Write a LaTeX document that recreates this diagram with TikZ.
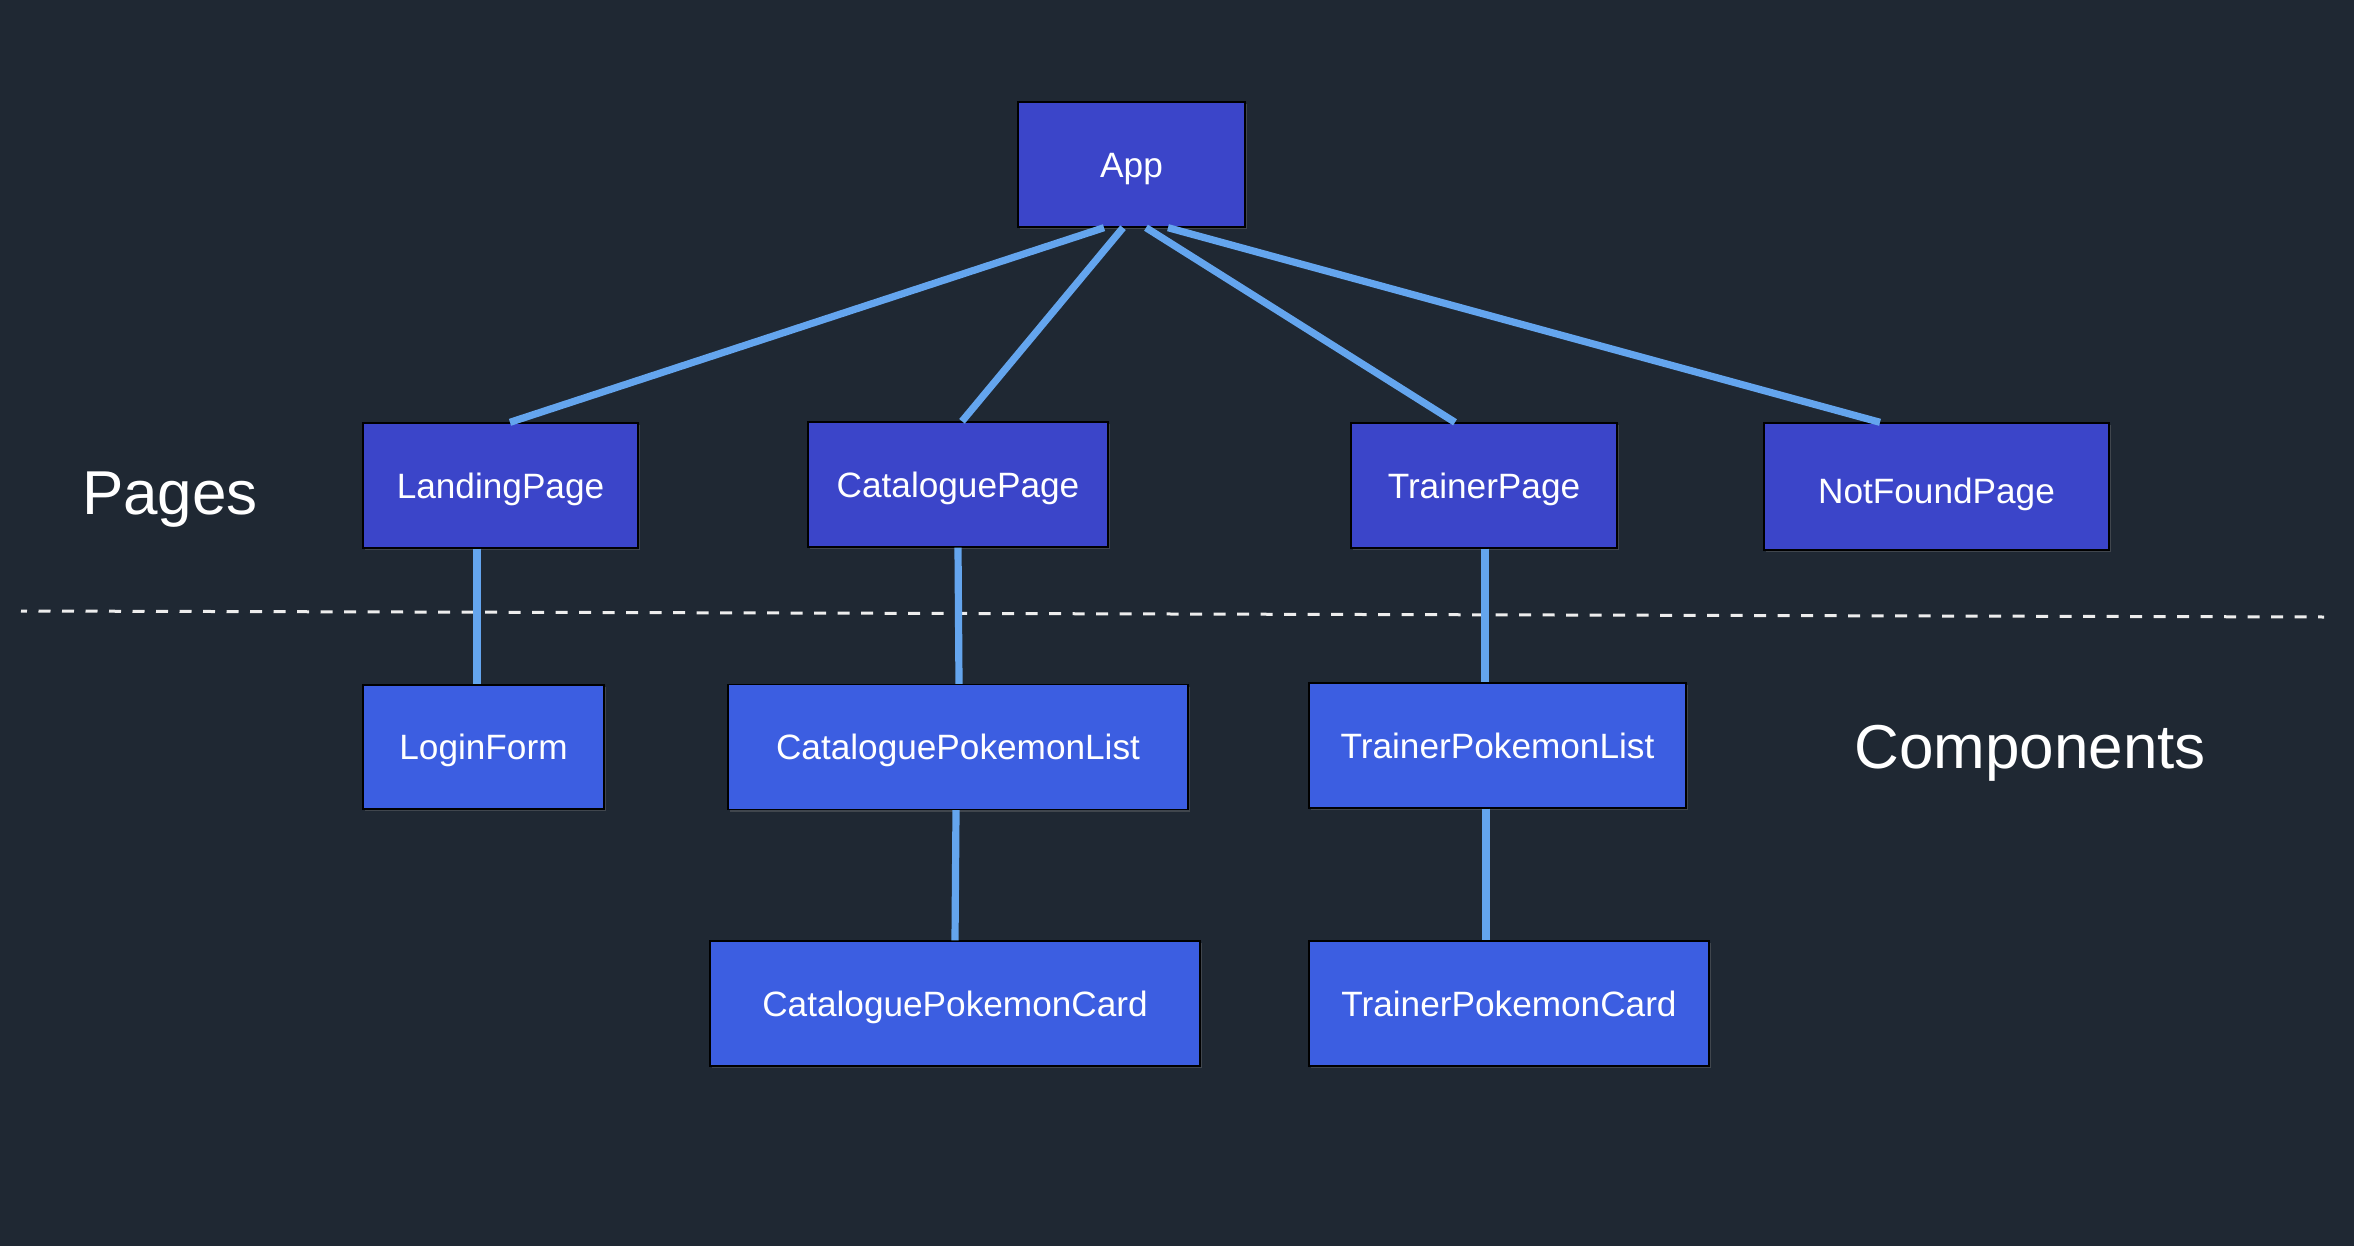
\documentclass[tikz,border=0pt]{standalone}
\usepackage{fontspec}
\setmainfont{Liberation Sans}
\usetikzlibrary{shadows}
\definecolor{bgcol}{HTML}{1F2833}
\definecolor{pagecol}{HTML}{3B45C9}
\definecolor{compcol}{HTML}{3C5EE1}
\definecolor{linkcol}{HTML}{64A5EE}
\definecolor{dashcol}{HTML}{EDEDED}
\begin{document}
\begin{tikzpicture}[x=0.5pt,y=-0.5pt,
  basebox/.style={draw=black, line width=0.7pt, text=white, inner sep=0pt,
    font=\fontsize{17.6pt}{21pt}\selectfont, text height=12.6pt, text depth=0pt,
    drop shadow={opacity=0.35, shadow xshift=0.8pt, shadow yshift=-1.2pt}},
  pagebox/.style={basebox, fill=pagecol},
  compbox/.style={basebox, fill=compcol},
  link/.style={draw=linkcol, line width=3.6pt},
  sectionlabel/.style={text=white, font=\fontsize{31pt}{36pt}\selectfont, inner sep=0pt, text height=22.2pt, text depth=0pt}
]
\fill[bgcol] (0,0) rectangle (2354,1246);
\useasboundingbox (0,0) rectangle (2354,1246);

% dashed separator
\coordinate (dashL) at (21,611);
\coordinate (dashR) at (2324,617);
\draw[dashcol, line width=1.5pt, dash pattern=on 6pt off 5.75pt, dash phase=3pt] (dashL) -- (dashR);

% boxes
\node[pagebox, minimum width=113.5pt, minimum height=62.5pt] (app) at (1131.5,164.5) {App};
\node[pagebox, minimum width=137.5pt, minimum height=62.5pt] (lp) at (500.5,485.5) {LandingPage};
\node[pagebox, minimum width=150pt, minimum height=62.5pt] (cp) at (958,484.5) {CataloguePage};
\node[pagebox, minimum width=133pt, minimum height=62.5pt] (tp) at (1484,485.5) {TrainerPage};
\node[pagebox, minimum width=172.5pt, minimum height=63.5pt, text height=17.1pt] (nf) at (1936.5,486.5) {NotFoundPage};
\node[compbox, minimum width=120.5pt, minimum height=62pt] (login) at (483.5,747) {LoginForm};
\node[compbox, minimum width=230pt, minimum height=62.5pt] (cpl) at (958,747) {CataloguePokemonList};
\node[compbox, minimum width=188.5pt, minimum height=62.5pt] (tpl) at (1497.5,745.5) {TrainerPokemonList};
\node[compbox, minimum width=245pt, minimum height=62.5pt] (cpc) at (955,1003.5) {CataloguePokemonCard};
\node[compbox, minimum width=200pt, minimum height=62.5pt] (tpc) at (1509,1003.5) {TrainerPokemonCard};

\node[sectionlabel] (pages) at (170,492) {Pages};
\node[sectionlabel] (components) at (2030,746) {Components};

% connectors
\path[link] ([xshift=-13.75pt]app.south) -- ([xshift=4.75pt]lp.north);
\path[link] ([xshift=-4.25pt]app.south) -- ([xshift=2pt]cp.north);
\path[link] ([xshift=7.25pt]app.south) -- ([xshift=-14.5pt]tp.north);
\path[link] ([xshift=18.25pt]app.south) -- ([xshift=-28.25pt]nf.north);
\path[link] ([xshift=-11.75pt]lp.south) -- ([xshift=-3.25pt]login.north);
\path[link] ([xshift=0pt]cp.south) -- ([xshift=0.5pt]cpl.north);
\path[link] ([xshift=-1pt]cpl.south) -- ([xshift=0pt]cpc.north);
\path[link] ([xshift=0.5pt]tp.south) -- ([xshift=-6.25pt]tpl.north);
\path[link] ([xshift=-5.75pt]tpl.south) -- ([xshift=-11.5pt]tpc.north);
\end{tikzpicture}
\end{document}
